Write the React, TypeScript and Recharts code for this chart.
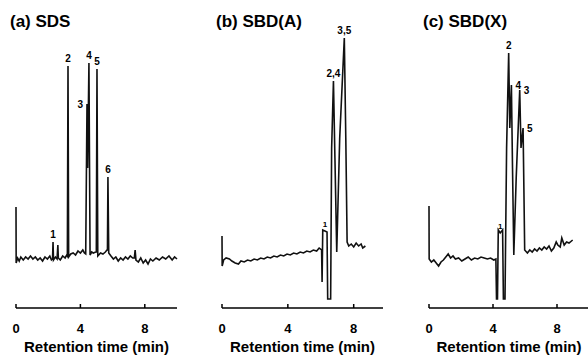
import React from 'react';
import { LineChart, Line, XAxis, YAxis, ReferenceDot } from 'recharts';

// retention time (min) / detector signal (arbitrary units)
const sdsTime = [
  0, 0.01, 0.1, 0.2, 0.3, 0.45, 0.6, 0.75, 0.9, 1.05, 1.2, 1.35, 1.5, 1.65, 1.8, 1.95, 2.1, 2.2, 2.27, 2.3,
  2.33, 2.45, 2.55, 2.6, 2.63, 2.75, 2.9, 3.05, 3.15, 3.19, 3.23, 3.27, 3.4, 3.55, 3.7, 3.85, 4.0, 4.15, 4.25, 4.33,
  4.41, 4.45, 4.53, 4.6, 4.7, 4.8, 4.95, 4.99, 5.03, 5.08, 5.25, 5.4, 5.55, 5.65, 5.68, 5.71, 5.76, 5.9, 6.05, 6.2,
  6.35, 6.5, 6.65, 6.8, 6.95, 7.1, 7.25, 7.35, 7.4, 7.45, 7.6, 7.75, 7.9, 8.05, 8.2, 8.35, 8.5, 8.7, 8.9, 9.1,
  9.3, 9.5, 9.7, 9.85, 10,
];
const sdsSignal = [
  101, 45, 50, 47, 51, 48, 51, 49, 52, 49, 51, 48, 50, 47, 51, 49, 52, 48, 49, 66,
  48, 51, 49, 63, 50, 48, 52, 50, 53, 52, 242, 51, 54, 55, 53, 57, 55, 58, 55, 54,
  204, 140, 245, 53, 56, 55, 56, 56, 239, 52, 55, 54, 56, 58, 58, 131, 55, 52, 49, 51,
  47, 50, 48, 51, 49, 52, 50, 50, 58, 48, 46, 50, 45, 48, 44, 49, 47, 50, 48, 51,
  49, 52, 48, 51, 49,
];

const sbdATime = [
  0, 0.01, 0.1, 0.25, 0.45, 0.6, 0.8, 1.0, 1.15, 1.35, 1.55, 1.75, 1.95, 2.15, 2.35, 2.55, 2.75, 2.95, 3.15, 3.35,
  3.55, 3.75, 3.95, 4.15, 4.35, 4.55, 4.75, 4.95, 5.15, 5.35, 5.55, 5.75, 5.9, 6.05, 6.08, 6.12, 6.25, 6.38, 6.42, 6.6,
  6.66, 6.77, 6.86, 6.97, 7.15, 7.43, 7.52, 7.6, 7.7, 7.85, 8.0, 8.15, 8.3, 8.45, 8.55, 8.71,
];
const sbdASignal = [
  72, 42, 48, 50, 49, 47, 45, 44, 47, 46, 48, 47, 49, 48, 50, 49, 51, 50, 52, 51,
  53, 52, 54, 53, 55, 54, 56, 55, 57, 56, 58, 57, 60, 58, 26, 78, 77, 76, 9, 9,
  160, 227, 150, 56, 170, 270, 170, 66, 62, 64, 61, 65, 62, 64, 60, 62,
];

const sbdXTime = [
  0, 0.01, 0.15, 0.3, 0.45, 0.6, 0.75, 0.9, 1.05, 1.2, 1.35, 1.5, 1.65, 1.85, 2.05, 2.25, 2.45, 2.65, 2.85, 3.05,
  3.25, 3.45, 3.65, 3.85, 4.05, 4.18, 4.22, 4.28, 4.33, 4.45, 4.6, 4.65, 4.75, 4.85, 4.98, 5.05, 5.15, 5.22, 5.3, 5.45,
  5.67, 5.75, 5.88, 5.93, 5.98, 6.15, 6.3, 6.45, 6.6, 6.75, 6.9, 7.05, 7.2, 7.35, 7.5, 7.65, 7.8, 7.95, 8.05, 8.2,
  8.3, 8.45, 8.6, 8.75, 8.98,
];
const sbdXSignal = [
  102, 49, 46, 48, 45, 42, 46, 48, 51, 54, 50, 52, 49, 50, 47, 49, 51, 48, 50, 49,
  51, 50, 49, 50, 48, 49, 9, 9, 78, 75, 78, 9, 9, 160, 255, 180, 223, 140, 53, 130,
  218, 160, 180, 120, 58, 55, 58, 56, 59, 57, 60, 58, 61, 59, 62, 57, 60, 66, 63, 61,
  70, 63, 66, 65, 68,
];

// peak numbers: label, apex time, apex signal, where the label sits
const sdsPeakLabels = ['1', '2', '3', '4', '5', '6'];
const sdsPeakTimes = [2.3, 3.23, 4.41, 4.53, 5.03, 5.71];
const sdsPeakHeights = [66, 242, 204, 245, 239, 131];
const sdsPeakSides = ['top', 'top', 'left', 'top', 'top', 'top'];

const sbdAPeakLabels = ['1', '2,4', '3,5'];
const sbdAPeakTimes = [6.25, 6.77, 7.43];
const sbdAPeakHeights = [77, 227, 270];
const sbdAPeakSides = ['top', 'top', 'top'];

const sbdXPeakLabels = ['1', '2', '4', '3', '5'];
const sbdXPeakTimes = [4.45, 4.98, 5.15, 5.67, 5.88];
const sbdXPeakHeights = [75, 255, 223, 218, 180];
const sbdXPeakSides = ['top', 'top', 'right', 'right', 'right'];

const xTicks = [0, 4, 8];

const FONT = '"Liberation Sans", Arial, Helvetica, sans-serif';

const AxisTick = (props: any) => {
  const { x, y, payload } = props;
  return (
    <g>
      <line x1={x} x2={x} y1={y - 4} y2={y} stroke='#000' strokeWidth={1.5} />
      <text x={x} y={y + 25} textAnchor='middle' fontSize={13} fontWeight='bold' fill='#000'>
        {payload.value}
      </text>
    </g>
  );
};

interface PanelProps {
  title: string;
  left: number;
  width: number;
  marginLeft: number;
  marginRight: number;
  maxTime: number;
  time: number[];
  signal: number[];
  labels: string[];
  peakTimes: number[];
  peakHeights: number[];
  sides: string[];
}

const Panel: React.FC<PanelProps> = ({
  title,
  left,
  width,
  marginLeft,
  marginRight,
  maxTime,
  time,
  signal,
  labels,
  peakTimes,
  peakHeights,
  sides,
}) => {
  const data = time.map((t, i) => ({ t, s: signal[i] }));

  return (
    <div style={{ position: 'absolute', left, top: 0, width, height: 357 }}>
      <div
        style={{
          position: 'absolute',
          left: marginLeft - 6,
          top: 13,
          fontSize: 17,
          lineHeight: '18px',
          fontWeight: 'bold',
          whiteSpace: 'nowrap',
        }}
      >
        {title}
      </div>
      <LineChart
        width={width}
        height={357}
        data={data}
        margin={{ top: 28, right: marginRight, bottom: 0, left: marginLeft }}
      >
        <XAxis
          dataKey='t'
          type='number'
          domain={[0, maxTime]}
          ticks={xTicks}
          tickSize={0}
          tickMargin={0}
          tickLine={false}
          tick={AxisTick}
          height={49}
          axisLine={{ stroke: '#000', strokeWidth: 1.5 }}
          label={{
            value: 'Retention time (min)',
            position: 'insideBottom',
            offset: 5,
            fill: '#000',
            fontSize: 15,
            fontWeight: 'bold',
          }}
        />
        <YAxis hide type='number' domain={[0, 280]} />
        <Line
          type='linear'
          dataKey='s'
          stroke='#111'
          strokeWidth={1.6}
          dot={false}
          isAnimationActive={false}
        />
        {labels.map((lab, i) => (
          <ReferenceDot
            key={lab}
            x={peakTimes[i]}
            y={peakHeights[i]}
            r={0}
            fill='none'
            stroke='none'
            label={{
              value: lab,
              position: sides[i] as any,
              offset: 4,
              fill: '#000',
              fontSize: lab === '1' && title !== '(a) SDS' ? 8 : 10,
              fontWeight: 'bold',
            }}
          />
        ))}
      </LineChart>
    </div>
  );
};

export default function App() {
  return (
    <div
      style={{
        position: 'absolute',
        left: 0,
        top: 0,
        width: 588,
        height: 357,
        overflow: 'hidden',
        background: '#fff',
        fontFamily: FONT,
        color: '#000',
      }}
    >
      <Panel
        title='(a) SDS'
        left={0}
        width={195}
        marginLeft={16}
        marginRight={18}
        maxTime={10}
        time={sdsTime}
        signal={sdsSignal}
        labels={sdsPeakLabels}
        peakTimes={sdsPeakTimes}
        peakHeights={sdsPeakHeights}
        sides={sdsPeakSides}
      />
      <Panel
        title='(b) SBD(A)'
        left={200}
        width={200}
        marginLeft={22}
        marginRight={17}
        maxTime={9.78}
        time={sbdATime}
        signal={sbdASignal}
        labels={sbdAPeakLabels}
        peakTimes={sbdAPeakTimes}
        peakHeights={sbdAPeakHeights}
        sides={sbdAPeakSides}
      />
      <Panel
        title='(c) SBD(X)'
        left={400}
        width={200}
        marginLeft={29}
        marginRight={11}
        maxTime={10}
        time={sbdXTime}
        signal={sbdXSignal}
        labels={sbdXPeakLabels}
        peakTimes={sbdXPeakTimes}
        peakHeights={sbdXPeakHeights}
        sides={sbdXPeakSides}
      />
    </div>
  );
}
